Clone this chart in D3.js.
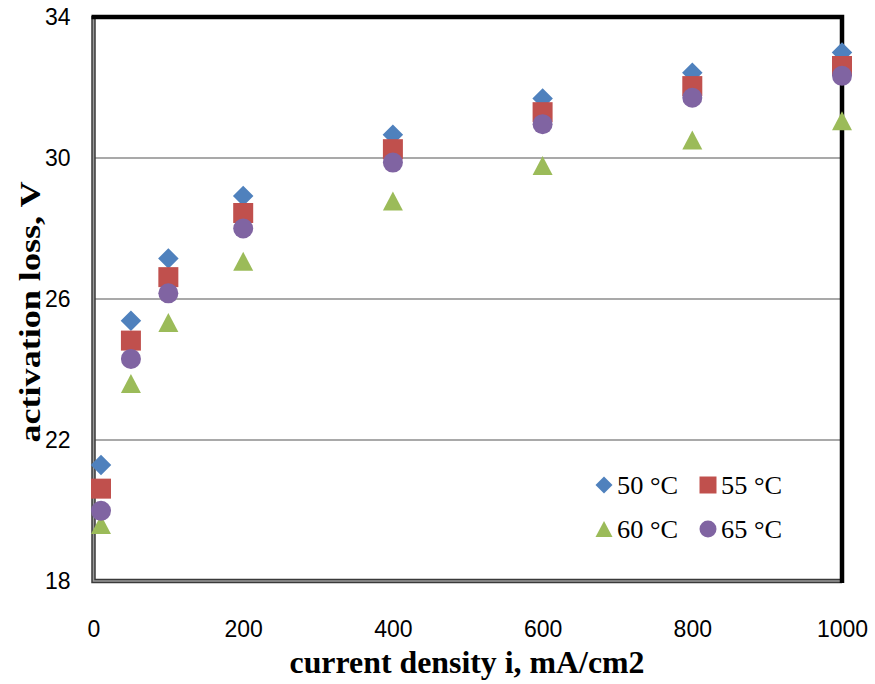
<!DOCTYPE html>
<html>
<head>
<meta charset="utf-8">
<script src="https://cdn.jsdelivr.net/npm/d3@7"></script>
<style>
  html, body { margin: 0; padding: 0; background: #fff; }
  svg { display: block; }
</style>
</head>
<body>
<svg id="chart" width="875" height="684"></svg>
<script>
// Current density, mA/cm2
const currentDensity = [10, 50, 100, 200, 400, 600, 800, 1000];

// Activation loss (V) for each cell temperature
const loss50 = [21.29, 25.38, 27.15, 28.92, 30.66, 31.69, 32.42, 32.99];
const loss55 = [20.62, 24.82, 26.62, 28.44, 30.25, 31.30, 32.04, 32.61];
const loss60 = [19.60, 23.60, 25.33, 27.07, 28.78, 29.79, 30.51, 31.06];
const loss65 = [19.99, 24.30, 26.16, 28.00, 29.87, 30.96, 31.71, 32.33];

const seriesNames = ["50 °C", "55 °C", "60 °C", "65 °C"];
const seriesValues = [loss50, loss55, loss60, loss65];
const seriesColors = ["#4F81BD", "#C0504D", "#9BBB59", "#8064A2"];

const xTicks = [0, 200, 400, 600, 800, 1000];
const yTicks = [18, 22, 26, 30, 34];

// Marker shapes (size = width squared)
const diamond = { draw(ctx, size) { const r = Math.sqrt(size) / 2;
  ctx.moveTo(0, -r); ctx.lineTo(r, 0); ctx.lineTo(0, r); ctx.lineTo(-r, 0); ctx.closePath(); } };
const square = { draw(ctx, size) { const r = Math.sqrt(size) / 2;
  ctx.rect(-r, -r, 2 * r, 2 * r); } };
const triangle = { draw(ctx, size) { const w = Math.sqrt(size), h = w * 0.95;
  ctx.moveTo(0, -h / 2); ctx.lineTo(w / 2, h / 2); ctx.lineTo(-w / 2, h / 2); ctx.closePath(); } };
const circle = { draw(ctx, size) { const r = Math.sqrt(size) / 2;
  ctx.moveTo(r, 0); ctx.arc(0, 0, r, 0, 2 * Math.PI); } };
const seriesShapes = [diamond, square, triangle, circle];
const seriesSizes = [20.5, 20, 20, 20];

const svg = d3.select("#chart");
const plotLeft = 93.5, plotRight = 842, plotTop = 17, plotBottom = 581;

const x = d3.scaleLinear().domain([0, 1000]).range([plotLeft, plotRight]);
const y = d3.scaleLinear().domain([18, 34]).range([plotBottom, plotTop]);

// Horizontal gridlines
svg.append("g").selectAll("line")
  .data(yTicks.filter(t => t > 18 && t < 34))
  .join("line")
  .attr("x1", plotLeft).attr("x2", plotRight)
  .attr("y1", d => y(d)).attr("y2", d => y(d))
  .attr("stroke", "#8c8c8c").attr("stroke-width", 1.5);

// Axes (labels only)
const tickFont = "'Liberation Sans', Arial, sans-serif";
const serifFont = "'Liberation Serif', 'Times New Roman', serif";
const yAxis = svg.append("g").attr("transform", `translate(${plotLeft},0)`)
  .call(d3.axisLeft(y).tickValues(yTicks).tickSize(0).tickPadding(23).tickFormat(d3.format("d")));
yAxis.select(".domain").remove();
yAxis.selectAll("text").attr("font-family", tickFont).attr("font-size", 23).attr("fill", "#000");

const xAxis = svg.append("g").attr("transform", `translate(0,${plotBottom})`)
  .call(d3.axisBottom(x).tickValues(xTicks).tickSize(0).tickPadding(40).tickFormat(d3.format("d")));
xAxis.select(".domain").remove();
xAxis.selectAll("text").attr("font-family", tickFont).attr("font-size", 23).attr("fill", "#000");

// Plot frame: shaded left/bottom edges, heavy black top/right edges
const frame = svg.append("g");
frame.append("path")
  .attr("d", `M${plotLeft},${plotTop - 1}V${plotBottom}H${plotRight}`)
  .attr("fill", "none").attr("stroke", "#3a3a3a").attr("stroke-width", 4.5);
frame.append("path")
  .attr("d", `M${plotLeft},${plotTop - 1}V${plotBottom}H${plotRight}`)
  .attr("fill", "none").attr("stroke", "#9a9a9a").attr("stroke-width", 1.5);
frame.append("path")
  .attr("d", `M${plotLeft - 2},${plotTop}H${plotRight}V${plotBottom + 2}`)
  .attr("fill", "none").attr("stroke", "#000").attr("stroke-width", 4.5);

// Data markers
seriesValues.forEach((vals, i) => {
  const sym = d3.symbol().type(seriesShapes[i]).size(seriesSizes[i] ** 2);
  svg.append("g").selectAll("path")
    .data(vals.map((v, j) => [currentDensity[j], v]))
    .join("path")
    .attr("transform", d => `translate(${x(d[0])},${y(d[1])})`)
    .attr("d", sym)
    .attr("fill", seriesColors[i]);
});

// Legend
const legendPos = [[604, 485], [708, 485], [604, 529], [708, 529]];
const legend = svg.append("g");
seriesNames.forEach((name, i) => {
  const [lx, ly] = legendPos[i];
  legend.append("path")
    .attr("transform", `translate(${lx},${ly})`)
    .attr("d", d3.symbol().type(seriesShapes[i]).size(17 * 17))
    .attr("fill", seriesColors[i]);
  legend.append("text")
    .attr("x", lx + 13).attr("y", ly + 9)
    .attr("font-family", serifFont)
    .attr("font-size", 26)
    .attr("textLength", 61).attr("lengthAdjust", "spacingAndGlyphs")
    .text(name);
});

// Axis titles
svg.append("text")
  .attr("x", 467).attr("y", 673)
  .attr("text-anchor", "middle")
  .attr("font-family", serifFont)
  .attr("font-weight", "bold").attr("font-size", 31)
  .attr("textLength", 355).attr("lengthAdjust", "spacingAndGlyphs")
  .text("current density i, mA/cm2");

svg.append("text")
  .attr("transform", "translate(40,312) rotate(-90)")
  .attr("text-anchor", "middle")
  .attr("font-family", serifFont)
  .attr("font-weight", "bold").attr("font-size", 30)
  .attr("textLength", 261).attr("lengthAdjust", "spacingAndGlyphs")
  .text("activation loss, V");
</script>
</body>
</html>
